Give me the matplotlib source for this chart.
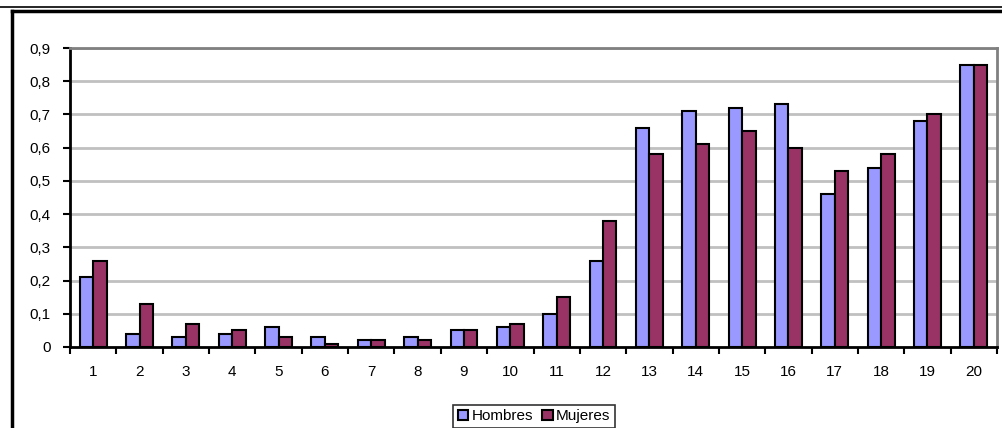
import numpy as np
import matplotlib.pyplot as plt
from matplotlib.lines import Line2D

plt.rcParams['font.family'] = ['Liberation Sans', 'DejaVu Sans']

# datos por grupo
grupos = [str(i) for i in range(1, 21)]
hombres = [0.21, 0.04, 0.03, 0.04, 0.06, 0.03, 0.02, 0.03, 0.05, 0.06,
           0.10, 0.26, 0.66, 0.71, 0.72, 0.73, 0.46, 0.54, 0.68, 0.85]
mujeres = [0.26, 0.13, 0.07, 0.05, 0.03, 0.01, 0.02, 0.02, 0.05, 0.07,
           0.15, 0.38, 0.58, 0.61, 0.65, 0.60, 0.53, 0.58, 0.70, 0.85]
yticks = [0, 0.1, 0.2, 0.3, 0.4, 0.5, 0.6, 0.7, 0.8, 0.9]
ylabels = ['0', '0,1', '0,2', '0,3', '0,4', '0,5', '0,6', '0,7', '0,8', '0,9']

fig = plt.figure(figsize=(10.02, 4.28), dpi=100)
ax = fig.add_axes([70/1002, 81/428, 927/1002, 299/428])

x = np.arange(len(grupos))
w = 0.29
ax.bar(x - w/2, hombres, w, color='#9999FF', edgecolor='black', linewidth=1.5,
       label='Hombres', zorder=3)
ax.bar(x + w/2, mujeres, w, color='#993366', edgecolor='black', linewidth=1.5,
       label='Mujeres', zorder=3)

ax.set_xlim(-0.5, len(grupos) - 0.5)
ax.set_ylim(0, 0.9)
ax.set_yticks(yticks)
ax.set_yticklabels(ylabels, fontsize=11)
ax.set_xticks(x)
ax.set_xticklabels(grupos, fontsize=11)
ax.tick_params(axis='x', length=0, pad=13)
ax.set_xticks(np.arange(len(grupos) + 1) - 0.5, minor=True)
ax.tick_params(axis='x', which='minor', length=5, width=1.5, direction='out')
ax.tick_params(axis='y', length=5, width=1.5, direction='out', pad=9)

for v in yticks[1:]:
    ax.axhline(v, color='#C0C0C0', linewidth=2, zorder=1)

ax.spines['left'].set_linewidth(2)
ax.spines['bottom'].set_linewidth(2)
ax.spines['bottom'].set_zorder(4)
ax.spines['top'].set_color('#808080')
ax.spines['top'].set_linewidth(2)
ax.spines['right'].set_color('#808080')
ax.spines['right'].set_linewidth(2)

leg = ax.legend(loc='upper center', bbox_to_anchor=(534/1002, 31/428),
                bbox_transform=fig.transFigure, ncol=2, fontsize=11,
                frameon=True, fancybox=False, edgecolor='black',
                handlelength=0.7, handleheight=0.7, handletextpad=0.2,
                columnspacing=0.6, borderpad=0.3)
leg.get_frame().set_linewidth(1.2)

# marco exterior y doble raya superior
fig.add_artist(Line2D([12/1002, 12/1002], [0, 417/428], color='black',
                      linewidth=2.5, transform=fig.transFigure))
fig.add_artist(Line2D([12/1002, 1], [417/428, 417/428], color='black',
                      linewidth=2.5, transform=fig.transFigure))
fig.add_artist(Line2D([0, 1], [421/428, 421/428], color='black',
                      linewidth=1.2, transform=fig.transFigure))

fig.savefig('out.png', dpi=100)
